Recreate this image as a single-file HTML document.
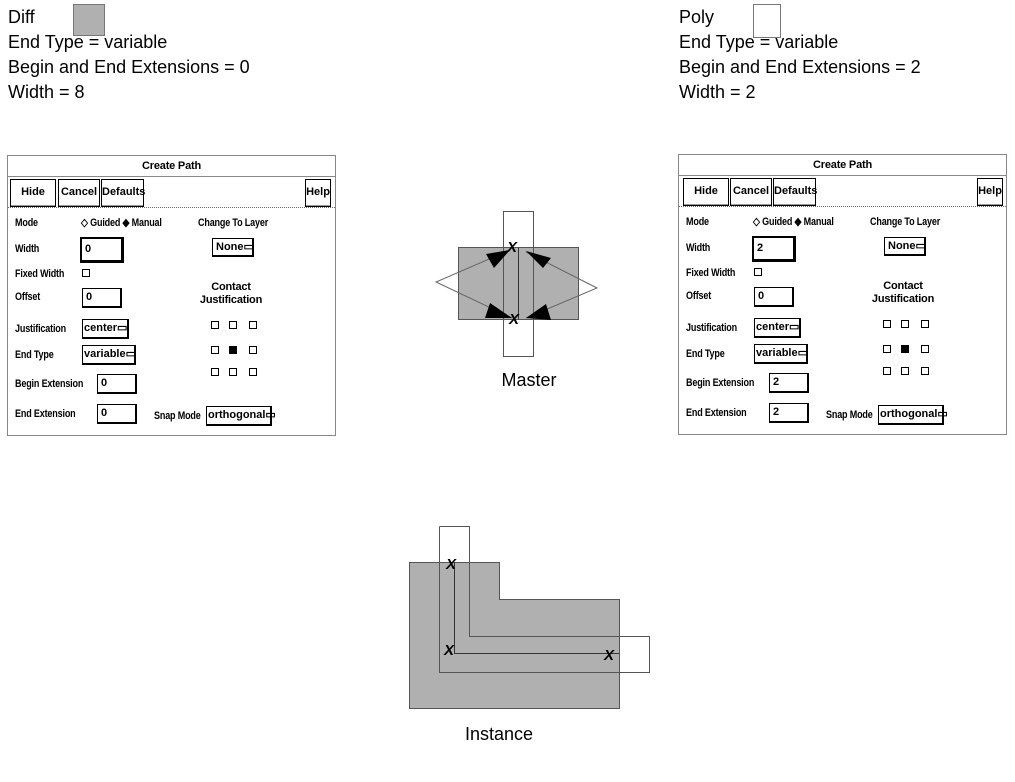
<!DOCTYPE html>
<html><head><style>
body{margin:0;width:1015px;height:782px;background:#fff;position:relative;overflow:hidden;font-family:"Liberation Sans",sans-serif;}
.t{position:absolute;font-size:18px;color:#000;line-height:25px;white-space:nowrap}
.dlg{position:absolute;width:327px;height:279px;border:1px solid #888;background:#fff;font-family:"Liberation Sans",sans-serif;font-size:11px;font-weight:bold;}
.dlg div{position:absolute;white-space:nowrap}
.l{line-height:12px;transform:scaleX(.82);transform-origin:left center;letter-spacing:-.2px}
.b{border:1px solid #000;box-shadow:inset 0 -1px 0 #999;text-align:center;line-height:25px}
.in{border:1px solid #000;border-right-width:2px;border-bottom-width:2px;line-height:17px;padding-left:3px;box-sizing:border-box}
.cb{width:6px;height:6px;border:1px solid #000}
</style></head><body>

<div class="t" style="left:8px;top:5px">Diff</div>
<div style="position:absolute;left:73px;top:4px;width:30px;height:30px;background:#b0b0b0;border:1px solid #777"></div>
<div class="t" style="left:8px;top:30px">End Type = variable</div>
<div class="t" style="left:8px;top:55px">Begin and End Extensions = 0</div>
<div class="t" style="left:8px;top:80px">Width = 8</div>

<div class="t" style="left:679px;top:5px">Poly</div>
<div style="position:absolute;left:753px;top:4px;width:26px;height:32px;background:#fff;border:1px solid #777"></div>
<div class="t" style="left:679px;top:30px">End Type = variable</div>
<div class="t" style="left:679px;top:55px">Begin and End Extensions = 2</div>
<div class="t" style="left:679px;top:80px">Width = 2</div>

<!-- left dialog -->
<div class="dlg" style="left:7px;top:155px">
<div class="l" style="left:0;width:327px;top:4px;text-align:center;transform:none">Create Path</div>
<div style="left:0;top:20px;width:327px;height:1px;background:#888"></div>
<div class="b" style="left:2px;top:23px;width:44px;height:26px">Hide</div>
<div class="b" style="left:50px;top:23px;width:40px;height:26px">Cancel</div>
<div class="b" style="left:93px;top:23px;width:41px;height:26px">Defaults</div>
<div class="b" style="left:297px;top:23px;width:24px;height:26px">Help</div>
<div style="left:0;top:51px;width:327px;border-top:1px dotted #666"></div>
<div class="l" style="left:7px;top:61px">Mode</div>
<div class="l" style="left:73px;top:61px">◇ Guided ◆ Manual</div>
<div class="l" style="left:190px;top:61px">Change To Layer</div>
<div class="l" style="left:7px;top:87px">Width</div>
<div class="in" style="left:72px;top:81px;width:44px;height:26px;border-width:2px 3px 3px 2px;line-height:21px">0</div>
<div class="in" style="left:204px;top:82px;width:42px;height:19px">None▭</div>
<div class="l" style="left:7px;top:112px">Fixed Width</div>
<div class="cb" style="left:74px;top:113px"></div>
<div class="l" style="left:7px;top:135px">Offset</div>
<div class="in" style="left:74px;top:132px;width:40px;height:20px">0</div>
<div class="l" style="left:195px;top:125px;width:56px;text-align:center;transform:none">Contact</div>
<div class="l" style="left:188px;top:138px;width:70px;text-align:center;transform:none">Justification</div>
<div class="cb" style="left:203px;top:165px"></div><div class="cb" style="left:221px;top:165px"></div><div class="cb" style="left:241px;top:165px"></div>
<div class="cb" style="left:203px;top:190px"></div><div class="cb" style="left:221px;top:190px;background:#000"></div><div class="cb" style="left:241px;top:190px"></div>
<div class="cb" style="left:203px;top:212px"></div><div class="cb" style="left:221px;top:212px"></div><div class="cb" style="left:241px;top:212px"></div>
<div class="l" style="left:7px;top:167px">Justification</div>
<div class="in" style="left:74px;top:163px;width:47px;height:20px;padding-left:1px">center▭</div>
<div class="l" style="left:7px;top:193px">End Type</div>
<div class="in" style="left:74px;top:189px;width:54px;height:20px;padding-left:1px">variable▭</div>
<div class="l" style="left:7px;top:222px">Begin Extension</div>
<div class="in" style="left:89px;top:218px;width:40px;height:20px">0</div>
<div class="l" style="left:7px;top:252px">End Extension</div>
<div class="in" style="left:89px;top:248px;width:40px;height:20px">0</div>
<div class="l" style="left:146px;top:254px">Snap Mode</div>
<div class="in" style="left:198px;top:250px;width:66px;height:20px;padding-left:1px">orthogonal▭</div>
</div>

<!-- right dialog -->
<div class="dlg" style="left:678px;top:154px">
<div class="l" style="left:0;width:327px;top:4px;text-align:center;transform:none">Create Path</div>
<div style="left:0;top:20px;width:327px;height:1px;background:#888"></div>
<div class="b" style="left:4px;top:23px;width:44px;height:26px">Hide</div>
<div class="b" style="left:51px;top:23px;width:40px;height:26px">Cancel</div>
<div class="b" style="left:94px;top:23px;width:41px;height:26px">Defaults</div>
<div class="b" style="left:298px;top:23px;width:24px;height:26px">Help</div>
<div style="left:0;top:51px;width:327px;border-top:1px dotted #666"></div>
<div class="l" style="left:7px;top:61px">Mode</div>
<div class="l" style="left:74px;top:61px">◇ Guided ◆ Manual</div>
<div class="l" style="left:191px;top:61px">Change To Layer</div>
<div class="l" style="left:7px;top:87px">Width</div>
<div class="in" style="left:73px;top:81px;width:44px;height:26px;border-width:2px 3px 3px 2px;line-height:21px">2</div>
<div class="in" style="left:205px;top:82px;width:42px;height:19px">None▭</div>
<div class="l" style="left:7px;top:112px">Fixed Width</div>
<div class="cb" style="left:75px;top:113px"></div>
<div class="l" style="left:7px;top:135px">Offset</div>
<div class="in" style="left:75px;top:132px;width:40px;height:20px">0</div>
<div class="l" style="left:196px;top:125px;width:56px;text-align:center;transform:none">Contact</div>
<div class="l" style="left:189px;top:138px;width:70px;text-align:center;transform:none">Justification</div>
<div class="cb" style="left:204px;top:165px"></div><div class="cb" style="left:222px;top:165px"></div><div class="cb" style="left:242px;top:165px"></div>
<div class="cb" style="left:204px;top:190px"></div><div class="cb" style="left:222px;top:190px;background:#000"></div><div class="cb" style="left:242px;top:190px"></div>
<div class="cb" style="left:204px;top:212px"></div><div class="cb" style="left:222px;top:212px"></div><div class="cb" style="left:242px;top:212px"></div>
<div class="l" style="left:7px;top:167px">Justification</div>
<div class="in" style="left:75px;top:163px;width:47px;height:20px;padding-left:1px">center▭</div>
<div class="l" style="left:7px;top:193px">End Type</div>
<div class="in" style="left:75px;top:189px;width:54px;height:20px;padding-left:1px">variable▭</div>
<div class="l" style="left:7px;top:222px">Begin Extension</div>
<div class="in" style="left:90px;top:218px;width:40px;height:20px">2</div>
<div class="l" style="left:7px;top:252px">End Extension</div>
<div class="in" style="left:90px;top:248px;width:40px;height:20px">2</div>
<div class="l" style="left:147px;top:254px">Snap Mode</div>
<div class="in" style="left:199px;top:250px;width:66px;height:20px;padding-left:1px">orthogonal▭</div>
</div>

<svg width="1015" height="782" style="position:absolute;left:0;top:0" xmlns="http://www.w3.org/2000/svg">
<rect x="458.5" y="247.5" width="120" height="72" fill="#b0b0b0" stroke="#555"/>
<rect x="503.5" y="211.5" width="30" height="145" fill="none" stroke="#555"/>
<line x1="518.5" y1="248" x2="518.5" y2="319" stroke="#333"/>
<polyline points="510,250 436,282 512,318" fill="none" stroke="#666"/>
<polyline points="526,252 597,288 526,318" fill="none" stroke="#666"/>
<polygon points="510,250 486,254 494,268" fill="#000"/>
<polygon points="512,318 490,303 485,318" fill="#000"/>
<polygon points="526,251 551,258 543,268" fill="#000"/>
<polygon points="526,318 546,304 551,320" fill="#000"/>
<text x="512" y="252" font-family="Liberation Sans" font-size="15" font-weight="bold" font-style="italic" text-anchor="middle">X</text>
<text x="514" y="324" font-family="Liberation Sans" font-size="15" font-weight="bold" font-style="italic" text-anchor="middle">X</text>
<text x="529" y="386" font-family="Liberation Sans" font-size="18" text-anchor="middle">Master</text>
<polygon points="409.5,562.5 499.5,562.5 499.5,599.5 619.5,599.5 619.5,708.5 409.5,708.5" fill="#b0b0b0" stroke="#555"/>
<polyline points="439.5,526.5 469.5,526.5 469.5,636.5 649.5,636.5 649.5,672.5 439.5,672.5 439.5,526.5" fill="none" stroke="#555"/>
<polyline points="454.5,562 454.5,653.5 619,653.5" fill="none" stroke="#333"/>
<text x="451" y="569" font-family="Liberation Sans" font-size="15" font-weight="bold" font-style="italic" text-anchor="middle">X</text>
<text x="449" y="655" font-family="Liberation Sans" font-size="15" font-weight="bold" font-style="italic" text-anchor="middle">X</text>
<text x="609" y="660" font-family="Liberation Sans" font-size="15" font-weight="bold" font-style="italic" text-anchor="middle">X</text>
<text x="499" y="740" font-family="Liberation Sans" font-size="18" text-anchor="middle">Instance</text>
</svg>
</body></html>
